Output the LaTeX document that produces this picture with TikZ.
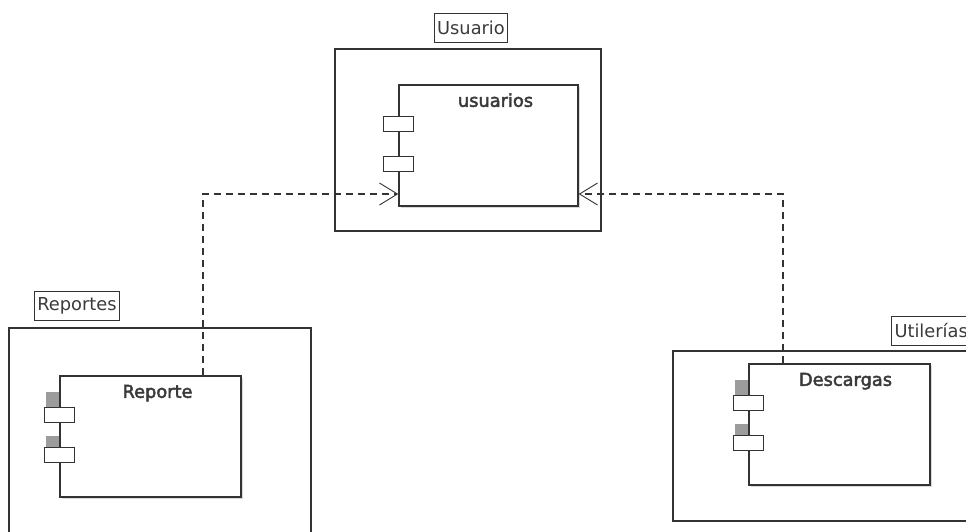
\documentclass[tikz,border=0pt]{standalone}
\usepackage{fontspec}
\setmainfont{DejaVu Sans}
\newfontfamily\compfont[FakeBold=2.5]{DejaVu Sans}
\usepackage{tikz}
\usetikzlibrary{arrows.meta,positioning,shadows}
\definecolor{umlline}{HTML}{333333}
\definecolor{umltext}{HTML}{3A3A3A}
\definecolor{portshade}{HTML}{9C9C9C}
\tikzstyle{pkglabel} =[rectangle, draw=umlline, line width=1pt, text=umltext,
                       inner xsep=3pt, minimum height=29pt,
                       font=\fontsize{17.8}{20}\selectfont]
\tikzstyle{pkgbox}   =[rectangle, draw=umlline, line width=1.4pt, inner sep=0pt]
\tikzstyle{component}=[rectangle, draw=umlline, fill=white, line width=1.4pt,
                       inner sep=0pt, minimum width=181pt, minimum height=121pt,
                       drop shadow={shadow xshift=1.5pt, shadow yshift=-1.5pt, opacity=0.3}]
\tikzstyle{compname} =[anchor=base, text=umltext, inner sep=0pt,
                       font=\compfont\fontsize{17.8}{20}\selectfont]
\tikzstyle{port}     =[rectangle, draw=umlline, fill=white, line width=1.4pt,
                       inner sep=0pt, minimum width=30pt, minimum height=15pt]
\tikzstyle{dep}      =[draw=umlline, line width=1.2pt, dash pattern=on 7pt off 5pt,
                       -{Straight Barb[length=18pt, width=22pt, line width=0.9pt]}]

\begin{document}
\begin{tikzpicture}[x=1pt, y=-1pt]

  \useasboundingbox (0,0) rectangle (966,531);
  \clip (0,0) rectangle (966,531);

  % ── packages ───────────────────────────────────────────────────────────────
  \node[pkglabel]                                     (usuariolbl) at (471, 27.5) {Usuario};
  \node[pkgbox, minimum width=266pt, minimum height=182pt] (usuariopkg) at (468, 140)  {};
  \node[pkglabel]                                     (reporteslbl) at (77, 306)  {Reportes};
  \node[pkgbox, minimum width=302pt, minimum height=217pt] (reportespkg) at (160, 436.5) {};
  \node[pkglabel, anchor=west]                        (utilblb) at (891, 330.5)  {Utilerías};
  \node[pkgbox, minimum width=317pt, minimum height=170pt] (utilpkg) at (831.5, 436) {};

  % ── components ─────────────────────────────────────────────────────────────
  \node[component, minimum width=179pt] (usuarios)  at (488.5, 145.5) {};
  \node[component]                      (reporte)   at (150.5, 436.5) {};
  \node[component]                      (descargas) at (839.5, 424.5) {};

  \node[compname] (usuariosname)  at ([xshift=7pt, yshift=-22.5pt]usuarios.north)  {usuarios};
  \node[compname] (reportename)   at ([xshift=7pt, yshift=-22.5pt]reporte.north)   {Reporte};
  \node[compname] (descargasname) at ([xshift=6pt, yshift=-22.5pt]descargas.north) {Descargas};

  % ── ports (shaded ones on Reporte and Descargas) ───────────────────────────
  \node[port] (usuariosp1) at ([yshift=-39.5pt]usuarios.north west) {};
  \node[port] (usuariosp2) at ([yshift=-79.5pt]usuarios.north west) {};

  \coordinate (reportec1)   at ([yshift=-39.5pt]reporte.north west);
  \coordinate (reportec2)   at ([yshift=-79.5pt]reporte.north west);
  \coordinate (descargasc1) at ([yshift=-39.5pt]descargas.north west);
  \coordinate (descargasc2) at ([yshift=-79.5pt]descargas.north west);
  \fill[portshade] ([xshift=-13pt, yshift=7.5pt]reportec1)   rectangle ([xshift=-0.7pt, yshift=22.5pt]reportec1);
  \fill[portshade] ([xshift=-13pt, yshift=7.5pt]reportec2)   rectangle ([xshift=-0.7pt, yshift=18.5pt]reportec2);
  \fill[portshade] ([xshift=-13pt, yshift=7.5pt]descargasc1) rectangle ([xshift=-0.7pt, yshift=22.5pt]descargasc1);
  \fill[portshade] ([xshift=-13pt, yshift=7.5pt]descargasc2) rectangle ([xshift=-0.7pt, yshift=18.5pt]descargasc2);
  \node[port] (reportep1)   at (reportec1)   {};
  \node[port] (reportep2)   at (reportec2)   {};
  \node[port] (descargasp1) at (descargasc1) {};
  \node[port] (descargasp2) at (descargasc2) {};

  % ── dependencies ───────────────────────────────────────────────────────────
  \draw[dep] ([xshift=52.5pt]reporte.north)    |- ([yshift=-48.5pt]usuarios.west);
  \draw[dep] ([xshift=-56.5pt]descargas.north) |- ([yshift=-48.5pt]usuarios.east);

\end{tikzpicture}
\end{document}
